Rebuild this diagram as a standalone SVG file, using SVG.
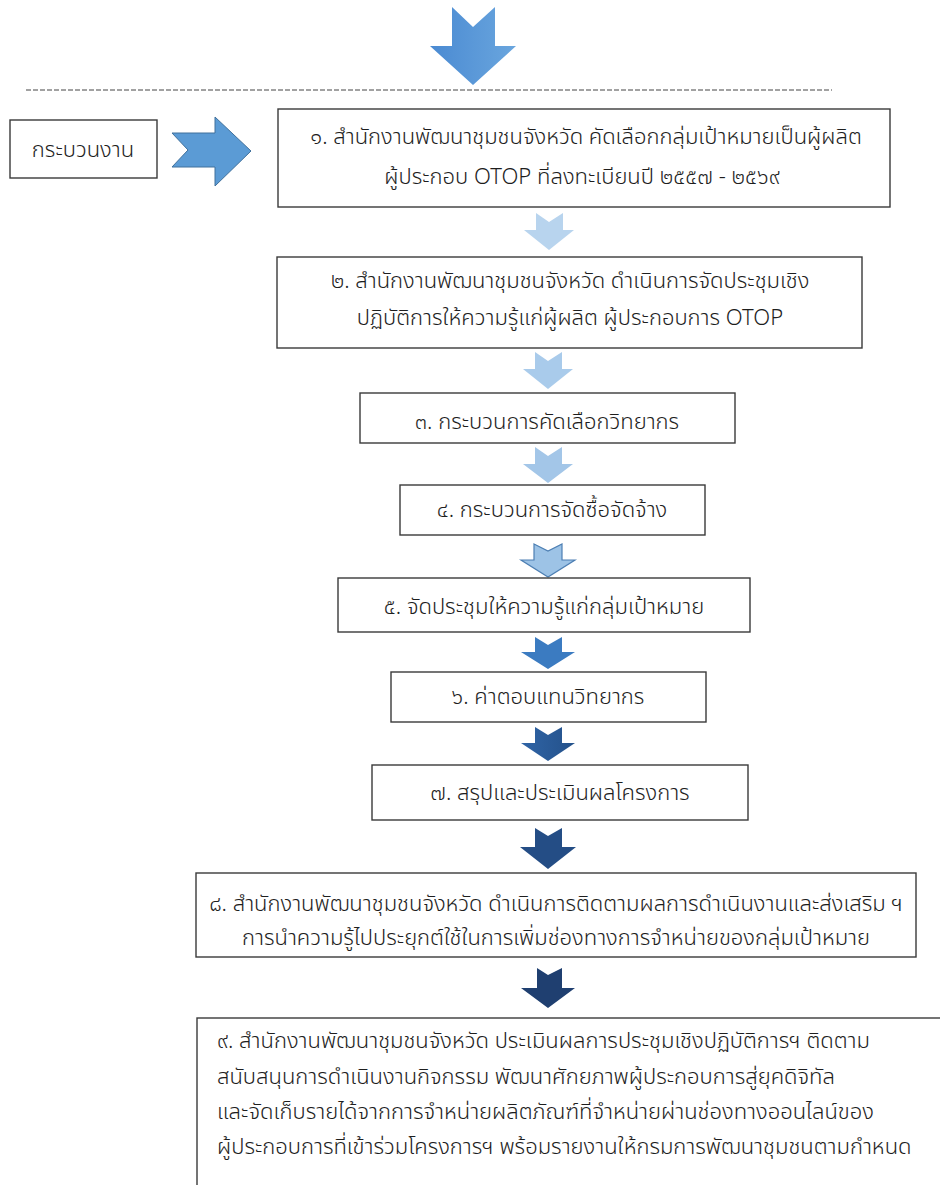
<svg xmlns="http://www.w3.org/2000/svg" width="940" height="1185" viewBox="0 0 940 1185">
<defs>
<style>
.box{fill:#fff;stroke:#3a3a3a;stroke-width:1.4}
.t{font-family:"Noto Sans Thai","Noto Sans","DejaVu Sans",sans-serif;font-size:22px;font-weight:300;fill:#1e1e1e}
.c{text-anchor:middle}
</style>
<linearGradient id="gBig" x1="0" y1="0" x2="1" y2="0"><stop offset="0" stop-color="#4a8ad2"/><stop offset="1" stop-color="#6aa6de"/></linearGradient>
<linearGradient id="g6" x1="0" y1="0" x2="1" y2="0"><stop offset="0" stop-color="#2f64a6"/><stop offset="1" stop-color="#24518a"/></linearGradient>
</defs>
<rect width="940" height="1185" fill="#fff"/>
<g id="connectors">
<polygon points="452,7 473,27 495,7 495,46 516,46 473,85 430,46 452,46" fill="url(#gBig)"/>
<line x1="26" y1="90" x2="832" y2="90" stroke="#444" stroke-width="1" stroke-dasharray="5,2"/>
<polygon points="172,133 188,150 172,167 215,167 215,186 251,151 215,117 215,133" fill="#5b9bd5" stroke="#41719c" stroke-width="1"/>
<polygon points="536,213 549,222 563,213 563,230 574,230 549,250 524,230 536,230" fill="#b8d4ee"/>
<polygon points="535,352 548,361 562,352 562,369 573,369 548,389 523,369 535,369" fill="#a9cbeb"/>
<polygon points="535,447 548,456 562,447 562,464 573,464 548,483 523,464 535,464" fill="#a3c6e8"/>
<polygon points="534,544 548,551 562,544 562,560 575,560 548,577 521,560 534,560" fill="#9dc3e6" stroke="#4d7fb3" stroke-width="1.2"/>
<polygon points="535,637 548,645 562,637 562,652 575,652 548,669 521,652 535,652" fill="#3b7bc1"/>
<polygon points="535,727 548,735 562,727 562,743 575,743 548,761 521,743 535,743" fill="url(#g6)"/>
<polygon points="535,828 548,836 562,828 562,847 576,847 548,869 520,847 535,847" fill="#244d85"/>
<polygon points="537,968 548,975 562,968 562,988 575,988 548,1008 521,988 537,988" fill="#1f3f70"/>
</g>
<g id="n0"><rect class="box" x="10" y="120" width="147" height="58"/><text class="t c" x="83" y="157">กระบวนงาน</text></g>
<g id="n1"><rect class="box" x="278" y="109" width="612" height="98"/>
<text class="t c" x="586" y="144">๑. สำนักงานพัฒนาชุมชนจังหวัด คัดเลือกกลุ่มเป้าหมายเป็นผู้ผลิต</text>
<text class="t c" x="582" y="184">ผู้ประกอบ OTOP ที่ลงทะเบียนปี ๒๕๕๗ - ๒๕๖๙</text></g>
<g id="n2"><rect class="box" x="277" y="257" width="585" height="91"/>
<text class="t c" x="570" y="288">๒. สำนักงานพัฒนาชุมชนจังหวัด ดำเนินการจัดประชุมเชิง</text>
<text class="t c" x="570" y="325">ปฏิบัติการให้ความรู้แก่ผู้ผลิต ผู้ประกอบการ OTOP</text></g>
<g id="n3"><rect class="box" x="360" y="393" width="375" height="50"/><text class="t c" x="547" y="429">๓. กระบวนการคัดเลือกวิทยากร</text></g>
<g id="n4"><rect class="box" x="400" y="485" width="305" height="50"/><text class="t c" x="552" y="517">๔. กระบวนการจัดซื้อจัดจ้าง</text></g>
<g id="n5"><rect class="box" x="338" y="578" width="412" height="54"/><text class="t c" x="544" y="614">๕. จัดประชุมให้ความรู้แก่กลุ่มเป้าหมาย</text></g>
<g id="n6"><rect class="box" x="391" y="672" width="315" height="50"/><text class="t c" x="548" y="704">๖. ค่าตอบแทนวิทยากร</text></g>
<g id="n7"><rect class="box" x="372" y="765" width="376" height="55"/><text class="t c" x="560" y="800">๗. สรุปและประเมินผลโครงการ</text></g>
<g id="n8"><rect class="box" x="196" y="873" width="720" height="84"/>
<text class="t c" x="556" y="911">๘. สำนักงานพัฒนาชุมชนจังหวัด ดำเนินการติดตามผลการดำเนินงานและส่งเสริม ฯ</text>
<text class="t c" x="556" y="945">การนำความรู้ไปประยุกต์ใช้ในการเพิ่มช่องทางการจำหน่ายของกลุ่มเป้าหมาย</text></g>
<g id="n9"><rect class="box" x="197" y="1018" width="760" height="200"/>
<text class="t" x="217" y="1048">๙. สำนักงานพัฒนาชุมชนจังหวัด ประเมินผลการประชุมเชิงปฏิบัติการฯ ติดตาม</text>
<text class="t" x="217" y="1084">สนับสนุนการดำเนินงานกิจกรรม พัฒนาศักยภาพผู้ประกอบการสู่ยุคดิจิทัล</text>
<text class="t" x="217" y="1119">และจัดเก็บรายได้จากการจำหน่ายผลิตภัณฑ์ที่จำหน่ายผ่านช่องทางออนไลน์ของ</text>
<text class="t" x="217" y="1154">ผู้ประกอบการที่เข้าร่วมโครงการฯ พร้อมรายงานให้กรมการพัฒนาชุมชนตามกำหนด</text></g>
</svg>
